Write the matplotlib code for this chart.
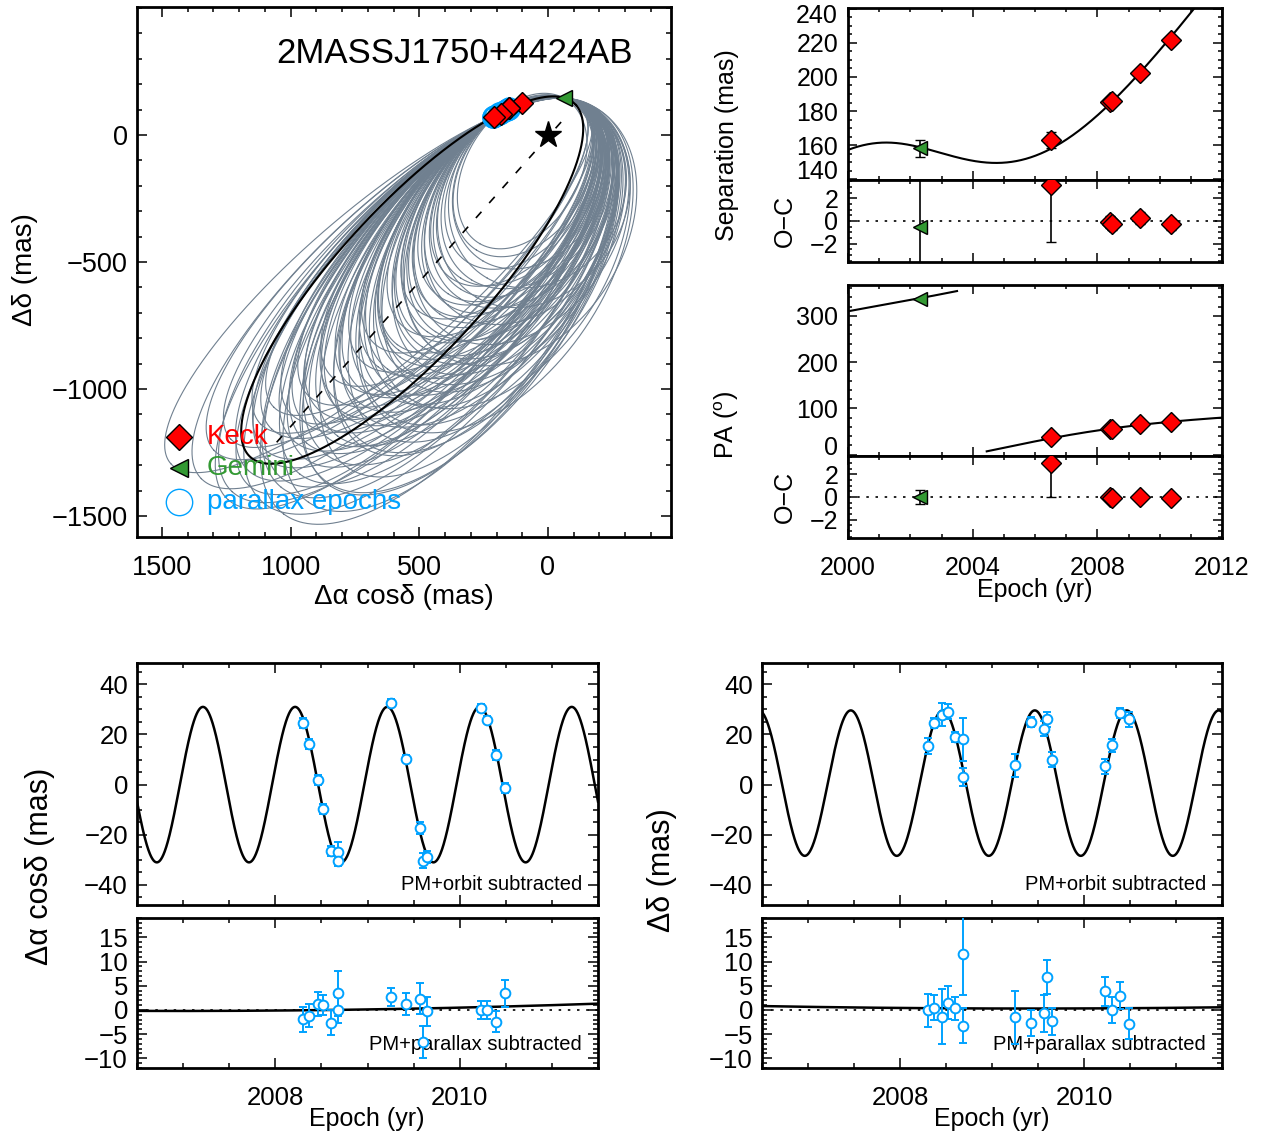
import numpy as np
import matplotlib
matplotlib.use("Agg")
import matplotlib.pyplot as plt
from matplotlib.ticker import MultipleLocator, FixedLocator

plt.rcParams["font.family"] = ["Liberation Sans", "DejaVu Sans"]
plt.rcParams["mathtext.fontset"] = "custom"
plt.rcParams["mathtext.rm"] = "Liberation Sans"
plt.rcParams["mathtext.it"] = "Liberation Sans:italic"
plt.rcParams["axes.unicode_minus"] = True

# ================= data =================
# --- relative astrometry ---
gem_epoch = [2002.30]
gem_sep = [158.0]
gem_sep_err = [5.0]
gem_pa = [336.8]
gem_pa_err = [0.65]
gem_sep_oc = [-0.5]
gem_sep_oc_err = [5.0]
gem_pa_oc = [0.0]
gem_pa_oc_err = [0.65]

keck_epoch = [2006.50, 2008.40, 2008.46, 2009.36, 2010.35]
keck_sep = [163.0, 185.5, 185.8, 202.2, 221.8]
keck_sep_err = [4.9, 0.6, 0.6, 0.6, 0.6]
keck_pa = [38.5, 55.2, 55.4, 65.4, 71.0]
keck_pa_err = [3.0, 0.3, 0.3, 0.3, 0.3]
keck_sep_oc = [3.2, -0.1, -0.3, 0.25, -0.3]
keck_sep_oc_err = [5.0, 0.5, 0.5, 0.5, 0.5]
keck_pa_oc = [3.0, 0.0, -0.05, 0.0, -0.05]
keck_pa_oc_err = [3.0, 0.3, 0.3, 0.3, 0.3]

curve_epoch = [2000.0, 2001.3, 2002.3, 2003.6, 2004.3, 2004.8, 2006.5, 2008.42, 2009.36, 2010.35, 2011.13]
curve_sep = [156.5, 161.0, 158.5, 153.0, 150.8, 150.0, 159.8, 185.6, 201.9, 222.1, 240.0]
curve_pa = [311.0, 325.7, 336.8, 354.0, 367.0, 372.0, 35.5, 55.2, 65.4, 71.0, 75.5]
orbit_center = [530.0, -570.0]          # centre of the projected best-fit ellipse (mas)
node_line_x = [-51.0, 1070.0]           # dashed line end points (mas)
node_line_y = [51.0, -1228.0]

# --- sample of allowed orbits (projected ellipses through the Gemini and last Keck points) ---
gray_a = [1070, 1050, 1030, 1010, 990, 975, 960, 945, 930, 915, 900, 885, 870, 855, 840,
          825, 810, 795, 780, 765, 750, 735, 720, 705, 690, 675, 660, 645, 630, 615,
          600, 585, 570, 555, 540, 525, 510, 495, 480, 465, 450, 435, 420, 405, 390,
          375, 360, 345, 330, 1000, 950, 900, 850, 800, 760, 720, 680, 640, 600, 560,
          920, 880, 860, 830, 810, 790, 770, 750, 730, 710, 690, 670, 650, 630, 610,
          590, 570, 550, 530, 510, 490, 470, 450, 430, 410, 1040, 990, 940, 880, 820]
gray_b = [300, 340, 380, 420, 310, 360, 400, 290, 345, 390, 430, 300, 350, 395, 280,
          330, 375, 415, 300, 345, 390, 430, 290, 330, 375, 410, 300, 340, 385, 280,
          320, 360, 400, 290, 330, 370, 270, 310, 350, 280, 320, 350, 260, 300, 330,
          250, 280, 240, 220, 430, 420, 420, 410, 400, 400, 390, 380, 370, 360, 350,
          340, 320, 370, 310, 350, 330, 360, 320, 350, 310, 340, 360, 320, 350, 330,
          300, 340, 310, 330, 300, 290, 300, 280, 290, 270, 360, 350, 370, 360, 350]
gray_th = [-41, -44, -47, -50, -43, -47, -51, -44, -48, -52, -55, -45, -49, -53, -45,
           -49, -53, -56, -47, -51, -54, -57, -48, -52, -55, -58, -50, -53, -56, -50,
           -53, -56, -58, -52, -55, -58, -53, -56, -58, -54, -57, -59, -55, -58, -60,
           -57, -59, -58, -60, -53, -55, -56, -57, -57, -58, -58, -58, -59, -59, -60,
           -47, -46, -50, -47, -50, -49, -52, -50, -53, -51, -53, -55, -52, -55, -54,
           -53, -56, -55, -57, -56, -55, -57, -56, -58, -57, -48, -49, -51, -52, -53]

# --- parallax epochs (bottom panels) ---
plx_epoch = [2008.30, 2008.37, 2008.46, 2008.52, 2008.60, 2008.68, 2008.68, 2009.25,
             2009.42, 2009.57, 2009.60, 2009.65, 2010.23, 2010.30, 2010.39, 2010.49]
ra_val = [24.7, 16.3, 2.0, -9.6, -26.3, -26.8, -30.3, 32.5, 10.4, -17.3, -30.4, -28.8, 30.5, 25.9, 11.7, -1.2]
ra_err = [2.0, 2.0, 2.0, 2.0, 2.0, 4.0, 2.0, 1.5, 1.5, 2.5, 3.0, 2.5, 1.5, 1.5, 2.0, 2.0]
ra_res = [-1.9, -1.2, 1.2, 1.0, -2.6, 3.4, 0.0, 2.7, 1.2, 2.3, -6.7, -0.3, 0.0, 0.0, -2.4, 3.4]
ra_res_err = [2.6, 2.4, 2.5, 2.0, 2.5, 4.6, 2.6, 1.8, 2.3, 3.2, 3.3, 3.0, 1.8, 1.8, 2.2, 2.7]
dec_val = [15.4, 24.7, 27.9, 29.0, 19.0, 18.0, 3.1, 7.7, 25.0, 22.3, 26.0, 10.0, 7.3, 15.7, 28.7, 26.0]
dec_err = [3.0, 2.0, 4.7, 3.0, 2.0, 8.4, 3.5, 4.5, 2.0, 3.0, 3.0, 3.0, 3.0, 2.5, 2.0, 3.0]
dec_res = [-0.1, 0.5, -1.4, 1.5, 0.3, 11.5, -3.3, -1.5, -2.7, -0.7, 6.8, -2.3, 3.9, 0.0, 2.9, -2.9]
dec_res_err = [3.4, 2.5, 5.7, 3.4, 2.3, 8.4, 3.6, 5.5, 2.7, 3.8, 3.6, 2.8, 3.0, 2.6, 2.8, 3.2]

# parallax model curves: amplitude (mas), epoch of maximum, offset
ra_plx = [31.0, 2007.215, 0.0]
dec_plx = [29.0, 2007.465, 0.6]
# orbital-motion residual curves: c0 + c1*(t-2009) + c2*(t-2009)^2
ra_orb = [0.10, 0.30, 0.072]
dec_orb = [0.30, -0.05, 0.06]

# ================= colours / figure =================
RED = "#ff0000"
GREEN = "#339933"
BLUE = "#00a2ff"
GRAY = "#708090"

W, H = 1263, 1142
fig = plt.figure(figsize=(W / 100, H / 100), dpi=100)
fig.patch.set_facecolor("white")


def add_ax(l, r, t, b):
    return fig.add_axes([l / W, 1 - b / H, (r - l) / W, (b - t) / H])


def ftext(x, y, s, **kw):
    kw.setdefault("ha", "center")
    kw.setdefault("va", "center")
    fig.text(x / W, 1 - y / H, s, **kw)


def style(ax, xpad=13, ypad=6.5, maj=7, mnr=3.5, lsize=18.5):
    ax.tick_params(which="both", direction="in", top=True, right=True,
                   width=1.1, labelsize=lsize, colors="black")
    ax.tick_params(which="major", length=maj)
    ax.tick_params(which="minor", length=mnr)
    ax.tick_params(axis="x", pad=xpad)
    ax.tick_params(axis="y", pad=ypad)
    for s in ax.spines.values():
        s.set_linewidth(2.0)


# ================= orbit model (Thiele-Innes fit to the read curve) =================
def solve_kepler(M, e):
    M = np.mod(M + np.pi, 2 * np.pi) - np.pi
    E = M + 0.85 * e * np.sign(np.sin(M))
    for _ in range(30):
        E = E - (E - e * np.sin(E) - M) / (1.0 - e * np.cos(E))
    return E


tf = np.array(curve_epoch)
xf = np.array(curve_sep) * np.sin(np.radians(curve_pa))
yf = np.array(curve_sep) * np.cos(np.radians(curve_pa))
cx, cy = orbit_center
WC = 0.02


def ti_fit(e, P, T):
    M = 2 * np.pi * (tf - T) / P
    E = solve_kepler(M, e)
    f1 = np.cos(E) - e
    f2 = np.sin(E) + 0 * e
    e0 = e[..., 0]
    g11 = (f1 * f1).sum(-1) + WC * e0 ** 2
    g12 = (f1 * f2).sum(-1)
    g22 = (f2 * f2).sum(-1)
    det = g11 * g22 - g12 ** 2
    res = 0.0
    coefs = []
    for d, c in ((xf, cx), (yf, cy)):
        r1 = (f1 * d).sum(-1) - WC * e0 * c
        r2 = (f2 * d).sum(-1)
        A = (g22 * r1 - g12 * r2) / det
        B = (g11 * r2 - g12 * r1) / det
        model = A[..., None] * f1 + B[..., None] * f2
        res = res + ((d - model) ** 2).sum(-1) + WC * (c + e0 * A) ** 2
        coefs.append((A, B))
    return res, coefs


def grid(e_vals, P_vals, T_vals):
    e = e_vals[:, None, None, None]
    P = P_vals[None, :, None, None]
    T = T_vals[None, None, :, None]
    res, _ = ti_fit(e, P, T)
    k = np.unravel_index(np.nanargmin(res), res.shape)
    return e_vals[k[0]], P_vals[k[1]], T_vals[k[2]]


e_b, P_b, T_b = grid(np.linspace(0.5, 0.97, 30), np.geomspace(60, 3000, 50), np.linspace(1990, 2005, 50))
e_b, P_b, T_b = grid(np.linspace(max(e_b - 0.03, 0.3), min(e_b + 0.03, 0.985), 25),
                     np.geomspace(P_b / 1.15, P_b * 1.15, 25), np.linspace(T_b - 0.5, T_b + 0.5, 25))
_, cf = ti_fit(np.array([[[[e_b]]]]), np.array([[[[P_b]]]]), np.array([[[[T_b]]]]))
Ax, Bx = float(cf[0][0].ravel()[0]), float(cf[0][1].ravel()[0])
Ay, By = float(cf[1][0].ravel()[0]), float(cf[1][1].ravel()[0])


def orbit_at(t):
    E = solve_kepler(2 * np.pi * (np.asarray(t) - T_b) / P_b, e_b)
    return (Ax * (np.cos(E) - e_b) + Bx * np.sin(E),
            Ay * (np.cos(E) - e_b) + By * np.sin(E))


# ================= Panel 1: orbit on the sky =================
ax = add_ax(137, 671, 7, 537)
style(ax, xpad=13, ypad=6.5, maj=7, mnr=3.5, lsize=19.5)
ax.set_xlim(1597, -478)
ax.set_ylim(-1583, 504)
ax.xaxis.set_major_locator(FixedLocator([1500, 1000, 500, 0]))
ax.xaxis.set_minor_locator(MultipleLocator(100))
ax.yaxis.set_major_locator(FixedLocator([0, -500, -1000, -1500]))
ax.yaxis.set_minor_locator(MultipleLocator(100))

gx = np.array(gem_sep) * np.sin(np.radians(gem_pa))
gy = np.array(gem_sep) * np.cos(np.radians(gem_pa))
kx = np.array(keck_sep) * np.sin(np.radians(keck_pa))
ky = np.array(keck_sep) * np.cos(np.radians(keck_pa))
P1 = np.array([gx[0], gy[0]])
P2 = np.array([kx[-1], ky[-1]])


def chord_ellipse(a, b, th_deg, Pa, Pb, n=500):
    th = np.radians(th_deg)
    u = np.array([np.cos(th), np.sin(th)])
    v = np.array([-np.sin(th), np.cos(th)])
    c = Pb - Pa
    cn = np.array([c @ u / a, c @ v / b])
    L = np.hypot(*cn)
    h = np.sqrt(max(1 - (L / 2) ** 2, 0.0))
    perp = np.array([-cn[1], cn[0]]) / L
    mid = (Pa + Pb) / 2
    best = None
    for sg in (1, -1):
        mn = sg * h * perp
        C = mid - (mn[0] * a * u + mn[1] * b * v)
        if best is None or C[1] < best[1]:
            best = C
    phi = np.linspace(0, 2 * np.pi, n)
    return (best[0] + a * np.cos(phi) * u[0] + b * np.sin(phi) * v[0],
            best[1] + a * np.cos(phi) * u[1] + b * np.sin(phi) * v[1])


for a, b, th in zip(gray_a, gray_b, gray_th):
    ex, ey = chord_ellipse(a, b, th, P1, P2)
    ax.plot(ex, ey, color=GRAY, lw=0.8, zorder=1)

Eo = np.linspace(0, 2 * np.pi, 2000)
ax.plot(Ax * (np.cos(Eo) - e_b) + Bx * np.sin(Eo), Ay * (np.cos(Eo) - e_b) + By * np.sin(Eo),
        color="black", lw=1.5, zorder=3)
ax.plot(node_line_x, node_line_y, color="black", lw=1.2, ls=(0, (5, 7)), zorder=3)
ax.plot([0], [0], marker="*", ms=20, color="black", zorder=4)

px_, py_ = orbit_at(plx_epoch)
ax.plot(px_, py_, ls="none", marker="o", ms=15, mfc="none", mec=BLUE, mew=1.2, zorder=4)
ax.plot(kx, ky, ls="none", marker="D", ms=11, mfc=RED, mec="black", mew=1.0, zorder=5)
ax.plot(gx, gy, ls="none", marker="<", ms=12, mfc=GREEN, mec="black", mew=1.0, zorder=6)

ax.text(0.595, 0.912, "2MASSJ1750+4424AB", transform=ax.transAxes, fontsize=25,
        ha="center", va="center")
ax.plot([0.0787], [0.1887], transform=ax.transAxes, marker="D", ms=13, mfc=RED, mec="black",
        mew=1.0, clip_on=False)
ax.plot([0.0787], [0.130], transform=ax.transAxes, marker="<", ms=13, mfc=GREEN, mec="black",
        mew=1.0, clip_on=False)
ax.plot([0.0787], [0.066], transform=ax.transAxes, marker="o", ms=19, mfc="none", mec=BLUE,
        mew=1.0, clip_on=False)
ax.text(0.131, 0.1887, "Keck", color=RED, fontsize=20, transform=ax.transAxes, va="center")
ax.text(0.131, 0.130, "Gemini", color=GREEN, fontsize=20, transform=ax.transAxes, va="center")
ax.text(0.131, 0.066, "parallax epochs", color=BLUE, fontsize=20, transform=ax.transAxes, va="center")

ftext(404, 597, "\u0394\u03b1 cos\u03b4 (mas)", fontsize=20)
ftext(25, 270, "\u0394\u03b4 (mas)", fontsize=20, rotation=90)

# ================= Panels 2-5: separation, PA and residuals =================
tm = np.linspace(2000, 2012, 1500)
mx, my = orbit_at(tm)
msep = np.hypot(mx, my)
mpa = np.mod(np.degrees(np.arctan2(mx, my)), 360)
mpa_plot = np.where((mpa > 354) | (mpa < 7), np.nan, mpa)

TR_LAB = 18


def xaxis_epoch(ax, labels):
    ax.set_xlim(2000, 2012)
    ax.xaxis.set_major_locator(FixedLocator([2000, 2004, 2008, 2012]))
    ax.xaxis.set_minor_locator(MultipleLocator(1))
    if not labels:
        ax.tick_params(axis="x", labelbottom=False)


ebk = dict(ecolor="black", elinewidth=1.2, capsize=3.5, capthick=1.2, ls="none")

ax = add_ax(848, 1222, 8, 180)
style(ax, ypad=7, maj=6.5, mnr=3.2, lsize=TR_LAB)
xaxis_epoch(ax, False)
ax.set_ylim(139.5, 240.5)
ax.set_yticks([140, 160, 180, 200, 220, 240])
ax.set_yticklabels(["", "160", "180", "200", "220", ""])
ax.yaxis.set_minor_locator(MultipleLocator(5))
ax.plot(tm, msep, color="black", lw=1.5, zorder=2)
ax.errorbar(gem_epoch, gem_sep, yerr=gem_sep_err, marker="<", ms=10, mfc=GREEN, mec="black",
            mew=1.0, zorder=4, **ebk)
ax.errorbar(keck_epoch, keck_sep, yerr=keck_sep_err, marker="D", ms=10, mfc=RED, mec="black",
            mew=1.0, zorder=4, **ebk)
# end labels sit just inside the axis, as in the original
ftext(838, 16, "240", fontsize=TR_LAB, ha="right")
ftext(838, 172, "140", fontsize=TR_LAB, ha="right")

ax = add_ax(848, 1222, 180, 262)
style(ax, ypad=7, maj=6.5, mnr=3.2, lsize=TR_LAB)
xaxis_epoch(ax, False)
ax.set_ylim(-3.6, 3.6)
ax.yaxis.set_major_locator(FixedLocator([-2, 0, 2]))
ax.yaxis.set_minor_locator(MultipleLocator(0.5))
ax.axhline(0, color="black", lw=1.2, ls=(0, (1.5, 4)), zorder=1)
ax.errorbar(gem_epoch, gem_sep_oc, yerr=gem_sep_oc_err, marker="<", ms=10, mfc=GREEN,
            mec="black", mew=1.0, zorder=4, **ebk)
ax.errorbar(keck_epoch, keck_sep_oc, yerr=keck_sep_oc_err, marker="D", ms=10, mfc=RED,
            mec="black", mew=1.0, zorder=4, **ebk)

ax = add_ax(848, 1222, 285, 456)
style(ax, ypad=7, maj=6.5, mnr=3.2, lsize=TR_LAB)
xaxis_epoch(ax, False)
ax.set_ylim(-3, 367)
ax.set_yticks([0, 100, 200, 300])
ax.set_yticklabels(["", "100", "200", "300"])
ax.yaxis.set_minor_locator(MultipleLocator(20))
ax.plot(tm, mpa_plot, color="black", lw=1.5, zorder=2)
ax.errorbar(gem_epoch, gem_pa, yerr=gem_pa_err, marker="<", ms=10, mfc=GREEN, mec="black",
            mew=1.0, zorder=4, **ebk)
ax.errorbar(keck_epoch, keck_pa, yerr=keck_pa_err, marker="D", ms=10, mfc=RED, mec="black",
            mew=1.0, zorder=4, **ebk)
ftext(838, 448, "0", fontsize=TR_LAB, ha="right")

ax = add_ax(848, 1222, 456, 538)
style(ax, xpad=13, ypad=7, maj=6.5, mnr=3.2, lsize=TR_LAB)
xaxis_epoch(ax, True)
ax.set_ylim(-3.6, 3.6)
ax.yaxis.set_major_locator(FixedLocator([-2, 0, 2]))
ax.yaxis.set_minor_locator(MultipleLocator(0.5))
ax.axhline(0, color="black", lw=1.2, ls=(0, (1.5, 4)), zorder=1)
ax.errorbar(gem_epoch, gem_pa_oc, yerr=gem_pa_oc_err, marker="<", ms=10, mfc=GREEN,
            mec="black", mew=1.0, zorder=4, **ebk)
ax.errorbar(keck_epoch, keck_pa_oc, yerr=keck_pa_oc_err, marker="D", ms=10, mfc=RED,
            mec="black", mew=1.0, zorder=4, **ebk)

ftext(727, 145, "Separation (mas)", fontsize=18, rotation=90)
ftext(785, 221, "O\u2212C", fontsize=18, rotation=90)
ftext(727, 425, r"PA ($^{\rm o}$)", fontsize=18, rotation=90)
ftext(785, 497, "O\u2212C", fontsize=18, rotation=90)
ftext(1035, 590, "Epoch (yr)", fontsize=18)

# ================= bottom panels: parallax =================
tp = np.linspace(2006.5, 2011.5, 1500)
ebb = dict(ls="none", marker="o", ms=7, mfc="white", mec=BLUE, mew=1.4,
           ecolor=BLUE, elinewidth=1.4, capsize=2.6, capthick=1.4, zorder=4)


def xaxis_plx(ax, labels):
    ax.set_xlim(2006.5, 2011.5)
    ax.xaxis.set_major_locator(FixedLocator([2008, 2010]))
    ax.xaxis.set_minor_locator(MultipleLocator(0.5))
    if not labels:
        ax.tick_params(axis="x", labelbottom=False)


def plx_panels(l, r, pars, orb, val, err, res, reserr):
    ax1 = add_ax(l, r, 663, 905)
    style(ax1, ypad=6.5, maj=7, mnr=3.5)
    xaxis_plx(ax1, False)
    ax1.set_ylim(-48, 48.5)
    ax1.yaxis.set_major_locator(FixedLocator([-40, -20, 0, 20, 40]))
    ax1.yaxis.set_minor_locator(MultipleLocator(5))
    amp, tpk, off = pars
    ax1.plot(tp, off + amp * np.cos(2 * np.pi * (tp - tpk)), color="black", lw=1.8, zorder=2)
    ax1.errorbar(plx_epoch, val, yerr=err, **ebb)
    ax1.text(0.965, 0.085, "PM+orbit subtracted", transform=ax1.transAxes, fontsize=14.5,
             ha="right", va="center")

    ax2 = add_ax(l, r, 918, 1068)
    style(ax2, xpad=13, ypad=6.5, maj=7, mnr=3.5)
    xaxis_plx(ax2, True)
    ax2.set_ylim(-12, 19)
    ax2.yaxis.set_major_locator(FixedLocator([-10, -5, 0, 5, 10, 15]))
    ax2.yaxis.set_minor_locator(MultipleLocator(1))
    ax2.axhline(0, color="black", lw=1.2, ls=(0, (1.5, 4)), zorder=1)
    c0, c1, c2 = orb
    ax2.plot(tp, c0 + c1 * (tp - 2009) + c2 * (tp - 2009) ** 2, color="black", lw=1.8, zorder=2)
    ax2.errorbar(plx_epoch, res, yerr=reserr, **ebb)
    ax2.text(0.965, 0.16, "PM+parallax subtracted", transform=ax2.transAxes, fontsize=14.5,
             ha="right", va="center")


plx_panels(137, 598, ra_plx, ra_orb, ra_val, ra_err, ra_res, ra_res_err)
plx_panels(762, 1222, dec_plx, dec_orb, dec_val, dec_err, dec_res, dec_res_err)

ftext(40, 866, "\u0394\u03b1 cos\u03b4 (mas)", fontsize=22, rotation=90)
ftext(662, 870, "\u0394\u03b4 (mas)", fontsize=22, rotation=90)
ftext(367, 1119, "Epoch (yr)", fontsize=18)
ftext(992, 1119, "Epoch (yr)", fontsize=18)

fig.savefig("out.png", dpi=100, facecolor="white")
